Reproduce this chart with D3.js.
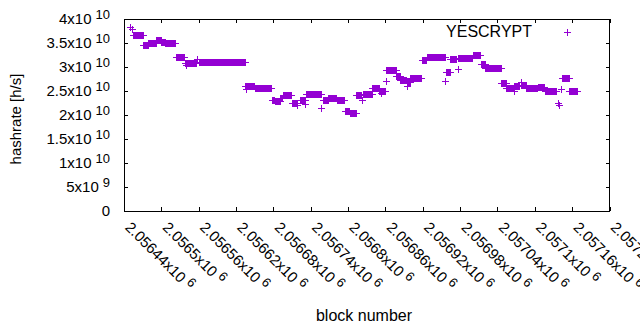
<!DOCTYPE html>
<html>
<head>
<meta charset="utf-8">
<script src="https://cdn.jsdelivr.net/npm/d3@7"></script>
<style>
  body { margin: 0; background: #fff; }
  svg { display: block; font-family: "Liberation Sans", Arial, sans-serif; }
</style>
</head>
<body>
<svg id="chart" width="640" height="330"></svg>
<script>
// x tick values (block numbers) and y tick values (hashrate)
var xTicks = [2056440, 2056500, 2056560, 2056620, 2056680, 2056740, 2056800,
              2056860, 2056920, 2056980, 2057040, 2057100, 2057160, 2057220];
var yTicks = [0, 5e9, 1e10, 1.5e10, 2e10, 2.5e10, 3e10, 3.5e10, 4e10];
var yTickBase = ['0', '5x10', '1x10', '1.5x10', '2x10', '2.5x10', '3x10', '3.5x10', '4x10'];
var yTickExp = ['', '9', '10', '10', '10', '10', '10', '10', '10'];

// hashrate stays constant over runs of blocks: first block, last block, value
var runStart = [2056451, 2056453, 2056455, 2056472, 2056480, 2056493, 2056501, 2056507, 2056524,
  2056539, 2056540, 2056546, 2056558, 2056561, 2056636, 2056637, 2056651, 2056678, 2056683,
  2056692, 2056696, 2056710, 2056719, 2056723, 2056731, 2056734, 2056758, 2056760, 2056769,
  2056783, 2056796, 2056804, 2056814, 2056823, 2056824, 2056840, 2056851, 2056854, 2056861,
  2056862, 2056878, 2056885, 2056895, 2056896, 2056901, 2056919, 2056927, 2056957, 2056958,
  2056965, 2056977, 2056978, 2056985, 2057001, 2057014, 2057021, 2057047, 2057055, 2057067,
  2057068, 2057078, 2057079, 2057087, 2057106, 2057117, 2057138, 2057140, 2057143, 2057144,
  2057156];
var runEnd = [2056451, 2056453, 2056471, 2056479, 2056492, 2056500, 2056506, 2056523, 2056537,
  2056545, 2056540, 2056556, 2056558, 2056635, 2056650, 2056637, 2056677, 2056682, 2056691,
  2056695, 2056709, 2056718, 2056719, 2056732, 2056731, 2056757, 2056758, 2056768, 2056782,
  2056795, 2056803, 2056813, 2056822, 2056823, 2056839, 2056850, 2056860, 2056854, 2056861,
  2056877, 2056884, 2056894, 2056895, 2056900, 2056918, 2056926, 2056956, 2056957, 2056964,
  2056974, 2056977, 2056984, 2057000, 2057013, 2057020, 2057046, 2057054, 2057066, 2057067,
  2057076, 2057078, 2057086, 2057105, 2057116, 2057135, 2057138, 2057140, 2057143, 2057155,
  2057169];
var runHash = [3.823e10, 3.781e10, 3.660e10, 3.444e10, 3.485e10, 3.556e10, 3.515e10, 3.485e10, 3.202e10,
  3.083e10, 3.031e10, 3.077e10, 3.154e10, 3.098e10, 2.594e10, 2.531e10, 2.552e10, 2.302e10, 2.271e10,
  2.348e10, 2.396e10, 2.244e10, 2.198e10, 2.3125e10, 2.229e10, 2.431e10, 2.140e10, 2.3125e10, 2.348e10,
  2.3125e10, 2.083e10, 2.035e10, 2.406e10, 2.3125e10, 2.4375e10, 2.556e10, 2.496e10, 2.458e10, 2.708e10,
  2.931e10, 2.798e10, 2.729e10, 2.604e10, 2.6875e10, 2.765e10, 3.129e10, 3.202e10, 2.708e10, 2.885e10,
  3.152e10, 2.958e10, 3.167e10, 3.181e10, 3.244e10, 3.0625e10, 2.965e10, 2.660e10, 2.556e10, 2.490e10,
  2.604e10, 2.6875e10, 2.625e10, 2.556e10, 2.573e10, 2.5e10, 2.25e10, 2.198e10, 2.531e10, 2.760e10,
  2.494e10];

var purple = '#9400d3';
var svg = d3.select('#chart');

var x = d3.scaleLinear().domain([2056440, 2057220]).range([124, 609.5]);
var y = d3.scaleLinear().domain([0, 4e10]).range([211, 19]);

// one point per block
var points = [];
runStart.forEach(function(s, i) {
  for (var b = s; b <= runEnd[i]; b++) points.push({block: b, hash: runHash[i]});
});

function cross(cx, cy) {
  var h = 3.5;
  return 'M' + (cx - h) + ',' + cy + 'H' + (cx + h) + 'M' + cx + ',' + (cy - h) + 'V' + (cy + h);
}

// ticks on all four sides, pointing in
function ticksOnly(axis) { return axis.tickSize(-4).tickSizeOuter(0).tickFormat(''); }
var axes = [
  [ticksOnly(d3.axisBottom(x).tickValues(xTicks)), 'translate(0,211)'],
  [ticksOnly(d3.axisTop(x).tickValues(xTicks)), 'translate(0,19)'],
  [ticksOnly(d3.axisLeft(y).tickValues(yTicks)), 'translate(124,0)'],
  [ticksOnly(d3.axisRight(y).tickValues(yTicks)), 'translate(609.5,0)']
];
axes.forEach(function(a) {
  var g = svg.append('g').attr('transform', a[1]).call(a[0]);
  g.select('.domain').remove();
  g.selectAll('line').attr('stroke', '#000').attr('shape-rendering', 'crispEdges');
});

svg.append('rect')
  .attr('x', 124.5).attr('y', 19.5)
  .attr('width', 485).attr('height', 191.5)
  .attr('fill', 'none').attr('stroke', '#000').attr('shape-rendering', 'crispEdges');

// y tick labels
var yl = svg.append('g').attr('font-size', 15).attr('fill', '#000');
yTicks.forEach(function(v, i) {
  var t = yl.append('text')
    .attr('x', 110).attr('y', y(v)).attr('dy', '0.35em')
    .attr('text-anchor', 'end');
  t.append('tspan').text(yTickBase[i]);
  if (yTickExp[i]) {
    t.append('tspan').attr('dx', 4).attr('dy', -5).attr('font-size', 13).text(yTickExp[i]);
  }
});

// x tick labels, rotated
var xl = svg.append('g').attr('font-size', 15).attr('fill', '#000');
xTicks.forEach(function(v) {
  var t = xl.append('text')
    .attr('transform', 'translate(' + (x(v) + 4) + ',224.5) rotate(45)')
    .attr('dy', '0.35em');
  t.append('tspan').text(String(+(v / 1e6).toFixed(5)) + 'x10');
  t.append('tspan').attr('dx', 4).attr('dy', -5).attr('font-size', 13).text('6');
});

svg.append('text')
  .attr('transform', 'translate(21,119) rotate(-90)')
  .attr('text-anchor', 'middle').attr('font-size', 15)
  .text('hashrate [h/s]');

svg.append('text')
  .attr('x', 364).attr('y', 321)
  .attr('text-anchor', 'middle').attr('font-size', 16)
  .text('block number');

// data points
svg.append('g')
  .attr('stroke', purple).attr('stroke-width', 1).attr('fill', 'none')
  .attr('shape-rendering', 'crispEdges')
  .selectAll('path')
  .data(points)
  .join('path')
  .attr('d', function(d) { return cross(x(d.block), y(d.hash)); });

// key
svg.append('text')
  .attr('x', 532).attr('y', 31).attr('dy', '0.35em')
  .attr('text-anchor', 'end').attr('font-size', 16)
  .text('YESCRYPT');
svg.append('path')
  .attr('d', cross(567, 32))
  .attr('stroke', purple).attr('fill', 'none').attr('shape-rendering', 'crispEdges');
</script>
</body>
</html>
